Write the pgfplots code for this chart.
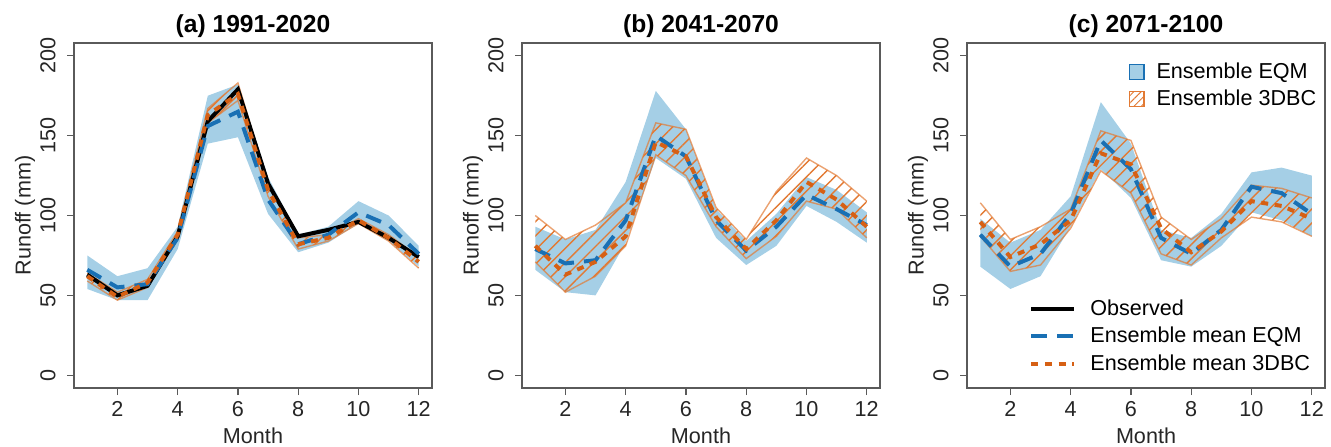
\documentclass[border=0pt]{standalone}
\usepackage{fontspec}
\setmainfont{Liberation Sans}
\usepackage{pgfplots}
\usepackage{pgfplotstable}
\pgfplotsset{compat=1.18}
\usepgfplotslibrary{fillbetween}
\usetikzlibrary{patterns.meta}
\definecolor{eqmfill}{RGB}{165,207,230}
\definecolor{eqmline}{RGB}{25,112,180}
\definecolor{dbcline}{RGB}{214,96,20}
\definecolor{hatch}{RGB}{226,122,52}
\definecolor{axgray}{RGB}{90,90,90}

\pgfplotstableread{
m obs eqm dbc eu el du dl
1 63 66 62 75 54 64 59
2 50 55 49 62 47 52 47
3 56 57 58 67 47 60 55
4 87 86 88 93 79 90 85
5 159 156 163 175 145 167 158
6 179 165 176 182 149 183 172
7 120 110 116 124 101 120 112
8 87 82 82 88 77 86 79
9 91 88 86 93 83 88 84
10 96 102 97 109 95 98 95
11 86 94 86 100 84 88 84
12 74 76 71 81 68 74 67
}\tabA
\pgfplotstableread{
m eqm dbc eu el du dl
1 79 81 93 66 100 71
2 70 63 85 52 85 52
3 72 71 91 50 94 62
4 97 87 121 83 108 81
5 150 146 178 136 158 138
6 137 137 154 123 154 125
7 97 99 104 86 105 93
8 78 79 84 69 85 73
9 93 97 101 81 115 87
10 113 121 124 106 136 109
11 104 110 116 96 125 104
12 94 93 102 83 109 86
}\tabB
\pgfplotstableread{
m eqm dbc eu el du dl
1 88 96 98 68 108 87
2 68 74 83 54 85 65
3 76 82 91 62 93 69
4 101 97 112 93 104 92
5 147 139 171 129 153 128
6 129 132 145 111 147 114
7 86 92 91 72 99 76
8 76 77 86 68 85 69
9 91 90 101 81 98 86
10 118 109 127 102 119 99
11 114 106 130 97 117 96
12 101 98 125 87 111 87
}\tabC

\newcommand{\fs}{\fontsize{10.8}{12.5}\selectfont}
\pgfplotsset{
  every axis title shift=0pt,
  myax/.style={
    scale only axis, width=179pt, height=172.5pt, anchor=south west,
    xmin=0.56, xmax=12.44, ymin=-8, ymax=208,
    xtick={2,4,6,8,10,12}, ytick={0,50,100,150,200},
    tick align=outside, major tick length=3.5pt,
    axis line style={axgray, line width=0.6pt},
    every tick/.style={axgray, line width=0.6pt},
    xtick pos=bottom, ytick pos=left,
    font=\fs,
    tick label style={font=\fs, text=black!85},
    /pgf/number format/assume math mode=true,
    yticklabel style={rotate=90, anchor=south, inner xsep=2pt, inner ysep=5.5pt},
    xticklabel style={inner sep=2pt, yshift=-1pt},
    xlabel={Month}, ylabel={Runoff (mm)},
    xlabel style={at={(axis description cs:0.5,-0.1603)}, anchor=base, text=black!85},
    ylabel style={at={(axis description cs:-0.137,0.5)}, anchor=center, rotate=0, text=black!85},
    title style={at={(axis description cs:0.5,1.029)}, anchor=base, font=\fontsize{12.3}{14}\selectfont\bfseries},
    clip=true,
  },
  bandA/.style={draw=none, forget plot},
  eqmst/.style={eqmline, line width=2pt, dash pattern=on 8pt off 5pt},
  dbcst/.style={dbcline, line width=2pt, dash pattern=on 3.5pt off 3.3pt},
  obsst/.style={black, line width=2pt},
  hatchst/.style={draw=none, pattern={Lines[angle=45,distance=5pt,line width=0.7pt]}, pattern color=hatch, fill opacity=0.7},
}

\newcommand{\panel}[1]{%
  \addplot[bandA, name path=eu] table[x=m,y=eu] {#1};
  \addplot[bandA, name path=el] table[x=m,y=el] {#1};
  \addplot[fill=eqmfill, draw=none, forget plot] fill between[of=eu and el];
  \addplot[bandA, name path=du] table[x=m,y=du] {#1};
  \addplot[bandA, name path=dl] table[x=m,y=dl] {#1};
  \addplot[hatchst, forget plot] fill between[of=du and dl];
  \addplot[hatch, line width=0.7pt, draw opacity=0.7, forget plot] table[x=m,y=du] {#1};
  \addplot[hatch, line width=0.7pt, draw opacity=0.7, forget plot] table[x=m,y=dl] {#1};
}

\begin{document}
\begin{tikzpicture}
% Panel a
\begin{axis}[myax, at={(37pt,29pt)}, title={(a) 1991-2020}]
  \panel{\tabA}
  \addplot[obsst] table[x=m,y=obs] {\tabA};
  \addplot[eqmst] table[x=m,y=eqm] {\tabA};
  \addplot[dbcst] table[x=m,y=dbc] {\tabA};
\end{axis}
% Panel b
\begin{axis}[myax, at={(261pt,29pt)}, title={(b) 2041-2070}]
  \panel{\tabB}
  \addplot[eqmst] table[x=m,y=eqm] {\tabB};
  \addplot[dbcst] table[x=m,y=dbc] {\tabB};
\end{axis}
% Panel c
\begin{axis}[myax, at={(483.5pt,29pt)}, title={(c) 2071-2100},
  legend style={draw=none, fill=none, inner sep=0pt, at={(0.45,0.955)}, anchor=north west,
    font=\fs, row sep=0pt,
    /tikz/every odd column/.append style={column sep=4pt}},
  legend cell align=left]
  \panel{\tabC}
  \addplot[eqmst, forget plot] table[x=m,y=eqm] {\tabC};
  \addplot[dbcst, forget plot] table[x=m,y=dbc] {\tabC};
  \addlegendimage{legend image code/.code={\draw[fill=eqmfill, draw=eqmline, line width=0.6pt] (0pt,-3.7pt) rectangle (7.4pt,3.7pt);}}
  \addlegendentry{Ensemble EQM}
  \addlegendimage{legend image code/.code={\draw[pattern={Lines[angle=45,distance=2.6pt,line width=0.45pt]}, pattern color=hatch, draw=hatch, line width=0.6pt] (0pt,-3.7pt) rectangle (7.4pt,3.7pt);}}
  \addlegendentry{Ensemble 3DBC}
\end{axis}
\begin{axis}[myax, at={(483.5pt,29pt)}, hide axis, title={},
  legend style={draw=none, fill=none, inner sep=0pt, at={(0.173,0.030)}, anchor=south west,
    font=\fs, row sep=0.4pt,
    /tikz/every odd column/.append style={column sep=5pt}},
  legend cell align=left,
  legend image code/.code={\draw[#1] (0pt,0pt) -- (21.5pt,0pt);}]
  \addlegendimage{obsst}
  \addlegendentry{Observed}
  \addlegendimage{eqmst}
  \addlegendentry{Ensemble mean EQM}
  \addlegendimage{dbcst}
  \addlegendentry{Ensemble mean 3DBC}
\end{axis}
\pgfresetboundingbox
\path (0,0) rectangle (665.5pt,223pt);
\end{tikzpicture}
\end{document}
